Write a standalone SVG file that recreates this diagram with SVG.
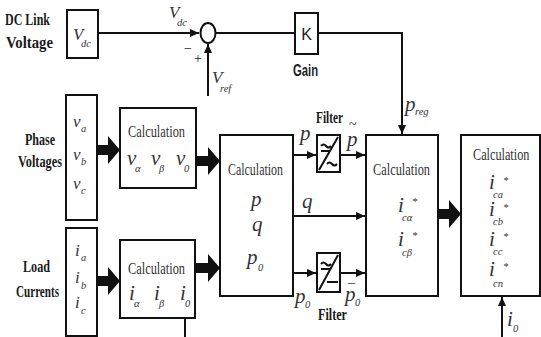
<svg xmlns="http://www.w3.org/2000/svg" width="541" height="337" viewBox="0 0 541 337">
<defs>
<style>
.box{fill:#fff;stroke:#111;stroke-width:2}
.ln{fill:none;stroke:#111;stroke-width:2}
.big{fill:#111}
.lbl{font-family:"Liberation Serif",serif;font-weight:bold;font-size:17px;fill:#1a1a1a}
.sans{font-family:"Liberation Sans",sans-serif;font-size:16px;fill:#222}
.calc{font-family:"Liberation Serif",serif;font-size:17px;fill:#333}
.var{font-family:"Liberation Serif",serif;font-style:italic;font-size:17px;fill:#333}
.vbig{font-family:"Liberation Serif",serif;font-style:italic;font-size:21px;fill:#333}
.sub{font-family:"Liberation Serif",serif;font-style:italic;font-size:10.5px;fill:#333}
.sym{font-family:"Liberation Serif",serif;font-size:14px;fill:#222}
</style>
<marker id="ah" markerWidth="9" markerHeight="8" refX="9" refY="4" orient="auto" markerUnits="userSpaceOnUse"><path d="M0,0 L9,4 L0,8 z" fill="#111"/></marker>
</defs>
<rect width="541" height="337" fill="#fff"/>

<g id="connectors">
<path class="ln" d="M98,33 L199,33" marker-end="url(#ah)"/>
<path class="ln" d="M208,96 L208,44" marker-end="url(#ah)"/>
<path class="ln" d="M216,33 L295,33"/>
<path class="ln" d="M318,33 L402,33 L402,134" marker-end="url(#ah)"/>
<path class="ln" d="M293,155 L316,155" marker-end="url(#ah)"/>
<path class="ln" d="M340,155 L365,155" marker-end="url(#ah)"/>
<path class="ln" d="M293,216 L365,216" marker-end="url(#ah)"/>
<path class="ln" d="M293,273 L316,273" marker-end="url(#ah)"/>
<path class="ln" d="M340,273 L365,273" marker-end="url(#ah)"/>
<path class="ln" d="M185,318 L185,337"/>
<path class="ln" d="M502,337 L502,297" marker-end="url(#ah)"/>
<polygon class="big" points="97,145 108,145 108,136 120,150 108,164 108,155 97,155"/>
<polygon class="big" points="196,156 208,156 208,147 220,161 208,175 208,166 196,166"/>
<polygon class="big" points="97,276 108,276 108,267 120,281 108,295 108,286 97,286"/>
<polygon class="big" points="195,263 208,263 208,254 220,268 208,282 208,273 195,273"/>
<polygon class="big" points="438,209 449,209 449,200 461,214 449,228 449,219 438,219"/>
</g>

<g id="dc-link-label">
<text class="lbl" x="5" y="25" textLength="45" lengthAdjust="spacingAndGlyphs">DC Link</text>
<text class="lbl" x="6" y="48" textLength="47" lengthAdjust="spacingAndGlyphs">Voltage</text>
</g>
<g id="vdc-box">
<rect class="box" x="67" y="10" width="31" height="48"/>
<text class="var" x="73" y="40">V</text>
<text class="sub" x="81" y="47">dc</text>
</g>
<g id="vdc-label">
<text class="var" x="169" y="18">V</text>
<text class="sub" x="177" y="26">dc</text>
</g>
<g id="sum">
<ellipse cx="208" cy="33" rx="7.5" ry="10" fill="#fff" stroke="#111" stroke-width="2"/>
<text class="sym" x="184" y="53">−</text>
<text class="sym" x="194" y="63">+</text>
</g>
<g id="vref-label">
<text class="var" x="212" y="83">V</text>
<text class="sub" x="220" y="92">ref</text>
</g>
<g id="gain">
<rect class="box" x="295" y="13" width="23" height="41"/>
<text class="sans" x="306.5" y="40" text-anchor="middle">K</text>
<text class="sans" x="293" y="76" textLength="25" lengthAdjust="spacingAndGlyphs" font-weight="bold">Gain</text>
</g>
<g id="preg-label">
<text class="vbig" x="405" y="111">p</text>
<text class="sub" x="415" y="115">reg</text>
</g>

<g id="phase-label">
<text class="lbl" x="25" y="145" textLength="30" lengthAdjust="spacingAndGlyphs">Phase</text>
<text class="lbl" x="18" y="167" textLength="44" lengthAdjust="spacingAndGlyphs">Voltages</text>
</g>
<g id="phase-box">
<rect class="box" x="66" y="95" width="31" height="125"/>
<text class="var" x="73" y="127">v</text><text class="sub" x="81" y="132">a</text>
<text class="var" x="73" y="160">v</text><text class="sub" x="81" y="165">b</text>
<text class="var" x="73" y="189">v</text><text class="sub" x="81" y="194">c</text>
</g>
<g id="calc-v">
<rect class="box" x="120" y="108" width="76" height="80"/>
<text class="calc" x="128" y="137" textLength="57" lengthAdjust="spacingAndGlyphs">Calculation</text>
<text class="vbig" x="127" y="165">v</text><text class="sub" x="135" y="172">α</text>
<text class="vbig" x="151" y="165">v</text><text class="sub" x="159" y="172">β</text>
<text class="vbig" x="176" y="165">v</text><text class="sub" x="184" y="172">0</text>
</g>

<g id="load-label">
<text class="lbl" x="23" y="272" textLength="27" lengthAdjust="spacingAndGlyphs">Load</text>
<text class="lbl" x="16" y="297" textLength="43" lengthAdjust="spacingAndGlyphs">Currents</text>
</g>
<g id="load-box">
<rect class="box" x="66" y="228" width="31" height="108"/>
<text class="var" x="75" y="256">i</text><text class="sub" x="81" y="261">a</text>
<text class="var" x="75" y="283">i</text><text class="sub" x="81" y="289">b</text>
<text class="var" x="75" y="308">i</text><text class="sub" x="81" y="314">c</text>
</g>
<g id="calc-i">
<rect class="box" x="120" y="240" width="75" height="78"/>
<text class="calc" x="128" y="274" textLength="57" lengthAdjust="spacingAndGlyphs">Calculation</text>
<text class="vbig" x="129" y="300">i</text><text class="sub" x="134" y="307">α</text>
<text class="vbig" x="154" y="300">i</text><text class="sub" x="159" y="307">β</text>
<text class="vbig" x="180" y="300">i</text><text class="sub" x="185" y="307">0</text>
</g>

<g id="calc-pq">
<rect class="box" x="220" y="135" width="73" height="161"/>
<text class="calc" x="228" y="175" textLength="55" lengthAdjust="spacingAndGlyphs">Calculation</text>
<text class="vbig" x="251" y="206">p</text>
<text class="vbig" x="252" y="231">q</text>
<text class="vbig" x="247" y="264">p</text><text class="sub" x="258" y="271">0</text>
</g>
<g id="pq-labels">
<text class="vbig" x="300" y="140">p</text>
<text class="vbig" x="302" y="208">q</text>
<text class="vbig" x="295" y="303">p</text><text class="sub" x="305" y="308">0</text>
<text class="sym" x="349" y="129">~</text>
<text class="vbig" x="347" y="146">p</text>
<text class="sym" x="348" y="294">¯</text>
<text class="vbig" x="345" y="301">p</text><text class="sub" x="355" y="306">0</text>
</g>
<g id="filter1">
<text class="lbl" x="316" y="123" textLength="27" lengthAdjust="spacingAndGlyphs">Filter</text>
<rect class="box" x="317" y="135" width="23" height="37"/>
<path class="ln" stroke-width="1.5" d="M319,170 L338,137"/>
<path class="ln" stroke-width="1.5" d="M321,146 q2.5,-3 5,0 t5,0 M321,151 L330,151 M327,164 q2.5,-3 5,0 t5,0"/>
</g>
<g id="filter2">
<text class="lbl" x="318" y="320" textLength="29" lengthAdjust="spacingAndGlyphs">Filter</text>
<rect class="box" x="317" y="253" width="23" height="39"/>
<path class="ln" stroke-width="1.5" d="M319,290 L338,255"/>
<path class="ln" stroke-width="1.5" d="M321,264 q2.5,-3 5,0 t5,0 M321,269 L330,269 M327,282 L338,282"/>
</g>

<g id="calc-ic-ab">
<rect class="box" x="366" y="135" width="72" height="161"/>
<text class="calc" x="373" y="175" textLength="57" lengthAdjust="spacingAndGlyphs">Calculation</text>
<text class="vbig" x="398" y="212">i</text><text class="sub" x="402" y="221">cα</text><text class="sub" x="412" y="205">*</text>
<text class="vbig" x="398" y="246">i</text><text class="sub" x="402" y="256">cβ</text><text class="sub" x="412" y="239">*</text>
</g>
<g id="calc-ic-abc">
<rect class="box" x="461" y="135" width="79" height="161"/>
<text class="calc" transform="translate(473,160) scale(0.72,1)" x="0" y="0">Calculation</text>
<text class="vbig" x="489" y="189">i</text><text class="sub" x="493" y="198">ca</text><text class="sub" x="503" y="184">*</text>
<text class="vbig" x="489" y="216">i</text><text class="sub" x="493" y="225">cb</text><text class="sub" x="503" y="211">*</text>
<text class="vbig" x="489" y="246">i</text><text class="sub" x="493" y="255">cc</text><text class="sub" x="503" y="240">*</text>
<text class="vbig" x="489" y="276">i</text><text class="sub" x="493" y="287">cn</text><text class="sub" x="503" y="270">*</text>
</g>
<g id="i0-label">
<text class="vbig" x="507" y="326">i</text><text class="sub" x="513" y="332">0</text>
</g>
</svg>
